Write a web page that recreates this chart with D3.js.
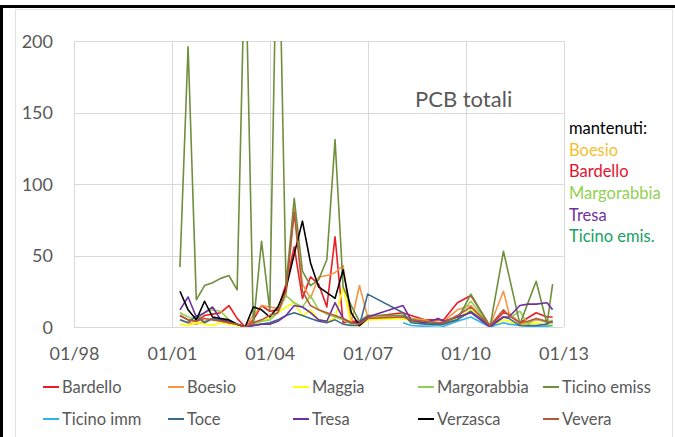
<!DOCTYPE html>
<html>
<head>
<meta charset="utf-8">
<script src="https://cdn.jsdelivr.net/npm/d3@7"></script>
<style>
  html, body { margin: 0; padding: 0; background: #fff; }
  svg { display: block; font-family: Lato, "Open Sans", sans-serif; }
</style>
</head>
<body>
<svg id="chart" width="675" height="437"></svg>
<script>
// Sampling dates (quarterly campaigns 2001-2007, then irregular 2008-2012)
const dates = [
  "2001-04","2001-07","2001-10","2002-01","2002-04","2002-07","2002-10","2003-01",
  "2003-04","2003-07","2003-10","2004-01","2004-04","2004-07","2004-10","2005-01",
  "2005-04","2005-07","2005-10","2006-01","2006-04","2006-07","2006-10","2007-01",
  "2008-02","2008-05","2008-10","2009-03","2009-05","2009-10","2010-03","2010-10",
  "2011-03","2011-05","2011-09","2011-12","2012-03","2012-07","2012-09"
];

// PCB totali per station (null = no sample on that date)
const bardello    = [8,5,4,8,9,10,15,6, 0,5,15,11,12,30,56,20, 35,30,14,63,3,4,4,7, 10,8,5,5,5,17,22,1, 10,9,3,null,10,7,7];
const boesio      = [5,3,2,4,6,4,3,2, 0,8,15,14,13,22,83,30, 20,35,36,38,43,3,29,7, 8,6,5,3,4,12,15,1, 25,10,2,3,5,4,3];
const maggia      = [2,1,3,2,1,3,2,1, 0,3,4,6,10,14,17,8, 12,5,4,6,28,2,1,5, 6,4,3,2,2,6,12,0, 5,4,1,2,3,1,2];
const margorabbia = [10,7,5,10,12,11,5,2, 0,2,4,5,10,22,17,14, 22,12,9,7,5,2,3,8, 8,6,4,3,3,7,18,1, 7,6,11,2,6,3,5];
const ticinoEmiss = [42,196,19,29,31,34,36,26, 270,1,60,12,320,29,90,39, 29,33,47,131,28,15,4,8, 8,4,3,2,3,5,23,0, 53,null,2,null,32,2,30];
const ticinoImm   = [null,null,null,null,null,null,null,null, null,null,null,null,null,null,null,null,
                     null,null,null,null,null,null,null,null, 3,1,0.5,1,0.5,4,7,0, 3,2,1,0.5,0.5,0.5,1];
const toce        = [5,3,8,3,6,5,3,2, 0,1,2,3,5,8,10,8, 6,4,3,5,2,1,1,23, 10,3,2,2,2,5,11,1, 7,6,1,1,1,2,4];
const tresa       = [12,21,7,10,14,5,4,2, 0,1,2,2,4,8,15,14, 10,5,4,17,6,3,3,7, 15,5,3,6,4,7,10,0, 7,7,15,16,16,17,12];
const verzasca    = [25,12,5,18,7,6,5,2, 0,14,12,7,14,27,51,74, 45,28,24,20,40,10,1,6,
                     null,null,null,null,null,null,null,null, null,null,null,null,null,null,null];
const vevera      = [8,5,4,6,5,4,3,2, 0,3,5,8,10,25,80,25, 15,12,10,8,6,3,2,6, 7,5,4,3,3,8,14,1, 12,8,3,4,6,4,3];

const seriesNames  = ["Bardello","Boesio","Maggia","Margorabbia","Ticino emiss",
                      "Ticino imm","Toce","Tresa","Verzasca","Vevera"];
const seriesValues = [bardello, boesio, maggia, margorabbia, ticinoEmiss,
                      ticinoImm, toce, tresa, verzasca, vevera];
const seriesColors = ["#ec1c24","#f79646","#ffff00","#92d050","#6f8f3d",
                      "#2eb4ea","#3b6a8c","#7030a0","#000000","#b5583a"];

const yTicks = [0, 50, 100, 150, 200];
const xTickDates = ["1998-01","2001-01","2004-01","2007-01","2010-01","2013-01"];

// Retained stations, with their label colours
const keptTitle = "mantenuti:";
const keptNames  = ["Boesio","Bardello","Margorabbia","Tresa","Ticino emis."];
const keptColors = ["#f2c12e","#e3142d","#92d050","#7030a0","#16a35f"];

const parse = d3.timeParse("%Y-%m");
const svg = d3.select("#chart");

// Frame of the picture
svg.append("rect").attr("x", 0).attr("y", 0).attr("width", 675).attr("height", 437).attr("fill", "#fff");
svg.append("rect").attr("x", 15.5).attr("y", 9.5).attr("width", 657).attr("height", 440)
   .attr("fill", "none").attr("stroke", "#e3e3e3");
svg.append("rect").attr("x", 0).attr("y", 5).attr("width", 675).attr("height", 3).attr("fill", "#000");
svg.append("rect").attr("x", 0).attr("y", 5).attr("width", 3).attr("height", 432).attr("fill", "#000");

const plot = { left: 74, right: 563.5, top: 41, bottom: 327 };

const x = d3.scaleTime()
  .domain([parse("1998-01"), parse("2013-01")])
  .range([plot.left, plot.right]);
const y = d3.scaleLinear().domain([0, 200]).range([plot.bottom, plot.top]);

// Gridlines
const grid = svg.append("g").attr("stroke", "#d9d9d9").attr("stroke-width", 1);
yTicks.forEach(v => {
  grid.append("line").attr("x1", plot.left).attr("x2", plot.right)
      .attr("y1", Math.round(y(v)) + 0.5).attr("y2", Math.round(y(v)) + 0.5);
});
xTickDates.forEach(s => {
  const xv = Math.round(x(parse(s))) + 0.5;
  grid.append("line").attr("x1", xv).attr("x2", xv).attr("y1", plot.top).attr("y2", plot.bottom);
});

// Axes
const xAxis = svg.append("g")
  .attr("transform", `translate(0,${plot.bottom})`)
  .call(d3.axisBottom(x).tickValues(xTickDates.map(parse))
          .tickFormat(d3.timeFormat("%m/%y")).tickSize(0).tickPadding(20));
const yAxis = svg.append("g")
  .attr("transform", `translate(${plot.left},0)`)
  .call(d3.axisLeft(y).tickValues(yTicks).tickSize(0).tickPadding(21));
[xAxis, yAxis].forEach(g => {
  g.select(".domain").remove();
  g.selectAll("text").attr("fill", "#595959").style("font-size", "18px")
   .style("font-family", "Lato, sans-serif");
});
yAxis.selectAll("text").attr("dy", "0.35em");

// Series lines, clipped to the plotting area; gaps are bridged
svg.append("clipPath").attr("id", "plotClip").append("rect")
  .attr("x", plot.left).attr("y", plot.top)
  .attr("width", plot.right - plot.left).attr("height", plot.bottom - plot.top);

const line = d3.line().x(d => x(d.date)).y(d => y(d.value));
const lines = svg.append("g").attr("clip-path", "url(#plotClip)");
seriesNames.forEach((name, i) => {
  const pts = dates.map((s, j) => ({ date: parse(s), value: seriesValues[i][j] }))
                   .filter(p => p.value !== null);
  lines.append("path").datum(pts)
    .attr("d", line).attr("fill", "none")
    .attr("stroke", seriesColors[i]).attr("stroke-width", 1.6)
    .attr("stroke-linejoin", "round");
});

// Title inside the plot
svg.append("text").attr("x", 415).attr("y", 99).attr("dy", "0.35em")
  .attr("fill", "#595959").style("font-size", "22px").text("PCB totali");

// List of retained stations
const note = svg.append("g").style("font-size", "16.5px");
note.append("text").attr("x", 569).attr("y", 128).attr("dy", "0.35em")
  .attr("fill", "#000").text(keptTitle);
keptNames.forEach((n, i) => {
  note.append("text").attr("x", 569).attr("y", 149.8 + i * 21.7).attr("dy", "0.35em")
    .attr("fill", keptColors[i]).text(n);
});

// Legend: two rows of five
const legend = svg.append("g").style("font-size", "16.5px");
seriesNames.forEach((n, i) => {
  const col = i % 5, row = Math.floor(i / 5);
  const lx = 43 + col * 125, ly = 387 + row * 32;
  legend.append("line").attr("x1", lx).attr("x2", lx + 16).attr("y1", ly).attr("y2", ly)
    .attr("stroke", seriesColors[i]).attr("stroke-width", 2);
  legend.append("text").attr("x", lx + 19).attr("y", ly).attr("dy", "0.35em")
    .attr("fill", "#595959").text(n);
});
</script>
</body>
</html>
